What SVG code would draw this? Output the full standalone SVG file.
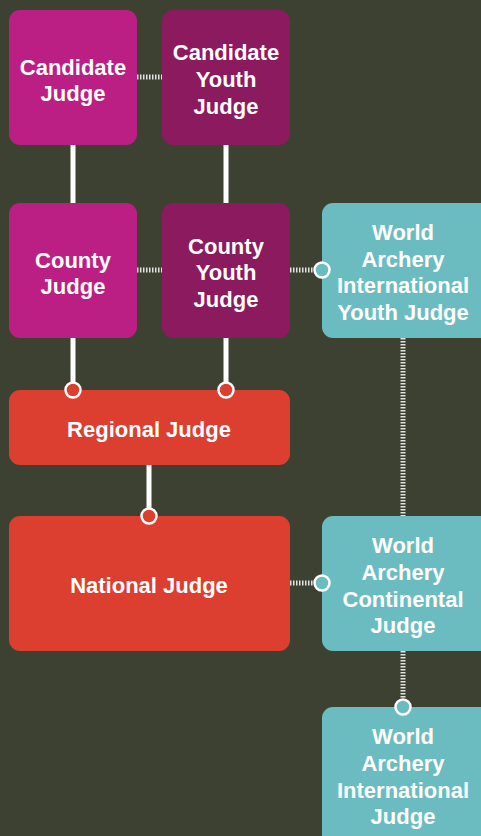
<svg xmlns="http://www.w3.org/2000/svg" width="481" height="836" viewBox="0 0 481 836">
<style>
.t{font-family:"Liberation Sans",Arial,sans-serif;font-weight:700;font-size:22px;fill:#fff;text-anchor:middle}
.solid{stroke:#fff;stroke-width:5;fill:none}
.dot{stroke:#fff;stroke-width:5;stroke-dasharray:1.5 1.5;fill:none;opacity:0.85}
.cr{fill:#dc3e2f;stroke:#fff;stroke-width:2.5}
.ct{fill:#6bbcc0;stroke:#fff;stroke-width:2.5}
</style>
<rect width="481" height="836" fill="#3d4132"/>
<g id="connectors">
<line class="dot" x1="137" y1="77" x2="162" y2="77"/>
<line class="solid" x1="73" y1="145" x2="73" y2="203"/>
<line class="solid" x1="226" y1="145" x2="226" y2="203"/>
<line class="dot" x1="137" y1="270" x2="162" y2="270"/>
<line class="dot" x1="290" y1="270" x2="322" y2="270"/>
<line class="solid" x1="73" y1="338" x2="73" y2="390"/>
<line class="solid" x1="226" y1="338" x2="226" y2="390"/>
<line class="solid" x1="149" y1="465" x2="149" y2="516"/>
<line class="dot" x1="403" y1="338" x2="403" y2="516"/>
<line class="dot" x1="290" y1="583" x2="322" y2="583"/>
<line class="dot" x1="403" y1="651" x2="403" y2="707"/>
</g>
<g id="candidate-judge"><rect x="9" y="10" width="128" height="135" rx="11" fill="#bc1f84"/><text class="t" x="73" y="75">Candidate</text><text class="t" x="73" y="101">Judge</text></g>
<g id="candidate-youth-judge"><rect x="162" y="10" width="128" height="135" rx="11" fill="#8b1a5f"/><text class="t" x="226" y="60">Candidate</text><text class="t" x="226" y="87">Youth</text><text class="t" x="226" y="114">Judge</text></g>
<g id="county-judge"><rect x="9" y="203" width="128" height="135" rx="11" fill="#bc1f84"/><text class="t" x="73" y="268">County</text><text class="t" x="73" y="294">Judge</text></g>
<g id="county-youth-judge"><rect x="162" y="203" width="128" height="135" rx="11" fill="#8b1a5f"/><text class="t" x="226" y="254">County</text><text class="t" x="226" y="280">Youth</text><text class="t" x="226" y="307">Judge</text></g>
<g id="wa-international-youth-judge"><rect x="322" y="203" width="170" height="135" rx="11" fill="#6bbcc0"/><text class="t" x="403" y="240">World</text><text class="t" x="403" y="267">Archery</text><text class="t" x="403" y="293">International</text><text class="t" x="403" y="320">Youth Judge</text></g>
<g id="regional-judge"><rect x="9" y="390" width="281" height="75" rx="11" fill="#dc3e2f"/><text class="t" x="149" y="437">Regional Judge</text></g>
<g id="national-judge"><rect x="9" y="516" width="281" height="135" rx="11" fill="#dc3e2f"/><text class="t" x="149" y="593">National Judge</text></g>
<g id="wa-continental-judge"><rect x="322" y="516" width="170" height="135" rx="11" fill="#6bbcc0"/><text class="t" x="403" y="553">World</text><text class="t" x="403" y="580">Archery</text><text class="t" x="403" y="607">Continental</text><text class="t" x="403" y="633">Judge</text></g>
<g id="wa-international-judge"><rect x="322" y="707" width="170" height="140" rx="11" fill="#6bbcc0"/><text class="t" x="403" y="744">World</text><text class="t" x="403" y="771">Archery</text><text class="t" x="403" y="798">International</text><text class="t" x="403" y="824">Judge</text></g>
<g id="joints">
<circle class="ct" cx="322" cy="270" r="7.5"/>
<circle class="cr" cx="73" cy="390" r="7.5"/>
<circle class="cr" cx="226" cy="390" r="7.5"/>
<circle class="cr" cx="149" cy="516" r="7.5"/>
<circle class="ct" cx="322" cy="583" r="7.5"/>
<circle class="ct" cx="403" cy="707" r="7.5"/>
</g>
</svg>
